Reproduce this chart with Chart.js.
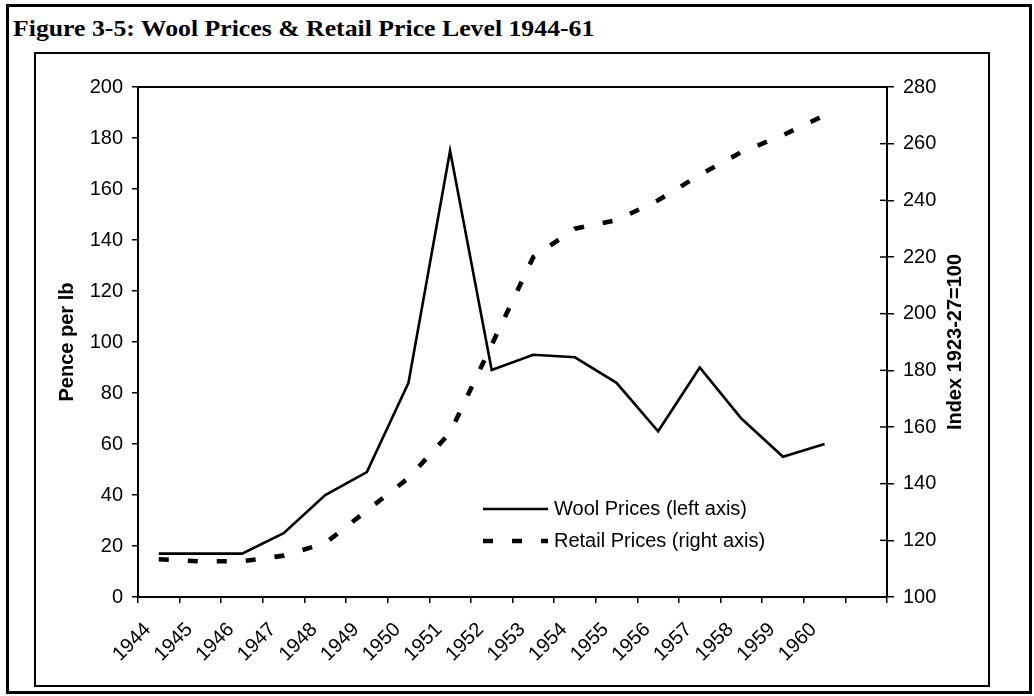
<!DOCTYPE html>
<html>
<head>
<meta charset="utf-8">
<script src="https://cdn.jsdelivr.net/npm/chart.js@4.4.0/dist/chart.umd.min.js"></script>
<style>
  body { margin: 0; background: #fff; }
  #wrap { position: relative; width: 1034px; height: 696px; overflow: hidden; }
  #outer { position: absolute; left: 6px; top: 4px; width: 1020px; height: 684px; border: 3px solid #000; }
  #inner { position: absolute; left: 34px; top: 52px; width: 952px; height: 631px; border: 2px solid #000; }
  #title { position: absolute; left: 13px; top: 17px; font: bold 23px "Liberation Serif", "Times New Roman", serif; line-height: 24px; white-space: nowrap; color: #000; transform: scaleX(1.12); transform-origin: left center; }
  #chart { position: absolute; left: 0; top: 0; }
</style>
</head>
<body>
<div id="wrap">
  <div id="outer"></div>
  <div id="inner"></div>
  <div id="title">Figure 3-5: Wool Prices &amp; Retail Price Level 1944-61</div>
  <canvas id="chart" width="1034" height="696"></canvas>
</div>
<script>
// categories (last slot is left empty on the axis)
const years = ['1944', '1945', '1946', '1947', '1948', '1949', '1950', '1951', '1952',
               '1953', '1954', '1955', '1956', '1957', '1958', '1959', '1960', ''];

// pence per lb (left axis)
const woolPrices = [17, 17, 17, 25, 40, 49, 84, 175, 89, 95, 94, 84, 65, 90, 70, 55, 60, null];

// retail price index, 1923-27=100 (right axis)
const retailIndex = [113.3, 112.6, 112.6, 114.6, 119, 130.5, 142, 158, 189, 220, 230, 233,
                     240, 249, 257, 263, 270, null];

const tickFont = { family: '"Liberation Sans", Arial, sans-serif', size: 20 };
const titleFont = { family: '"Liberation Sans", Arial, sans-serif', size: 20, weight: 'bold' };

// box round the plot, inward ticks on the right axis, right title and legend
const extras = {
  id: 'extras',
  afterDraw(chart) {
    const ctx = chart.ctx;
    const a = chart.chartArea;
    ctx.save();
    ctx.strokeStyle = '#000';
    ctx.lineWidth = 2;
    ctx.beginPath();
    ctx.moveTo(a.left, a.top);
    ctx.lineTo(a.right, a.top);
    ctx.stroke();

    const y1 = chart.scales.y1;
    ctx.lineWidth = 1.5;
    y1.ticks.forEach(t => {
      const py = y1.getPixelForValue(t.value);
      ctx.beginPath();
      ctx.moveTo(a.right - 7, py);
      ctx.lineTo(a.right, py);
      ctx.stroke();
    });

    // right axis title, reading bottom to top
    ctx.fillStyle = '#000';
    ctx.font = 'bold 20px "Liberation Sans", Arial, sans-serif';
    ctx.textAlign = 'center';
    ctx.textBaseline = 'middle';
    ctx.translate(a.right + 68, (a.top + a.bottom) / 2);
    ctx.rotate(-Math.PI / 2);
    ctx.fillText('Index 1923-27=100', 0, 0);
    ctx.restore();

    // legend
    ctx.save();
    ctx.font = '20px "Liberation Sans", Arial, sans-serif';
    ctx.textAlign = 'left';
    ctx.textBaseline = 'middle';
    ctx.fillStyle = '#000';
    const lx = a.left + 345;
    chart.data.datasets.forEach((ds, i) => {
      const ly = a.top + 422 + i * 32;
      ctx.strokeStyle = ds.borderColor;
      ctx.lineWidth = ds.borderWidth;
      ctx.setLineDash(ds.borderDash || []);
      ctx.beginPath();
      ctx.moveTo(lx, ly);
      ctx.lineTo(lx + 65, ly);
      ctx.stroke();
      ctx.setLineDash([]);
      ctx.fillText(ds.label, lx + 71, ly);
    });
    ctx.restore();
  }
};

new Chart(document.getElementById('chart'), {
  type: 'line',
  data: {
    labels: years,
    datasets: [
      {
        label: 'Wool Prices (left axis)',
        data: woolPrices,
        yAxisID: 'y',
        borderColor: '#000',
        borderWidth: 2.6,
        pointRadius: 0,
        tension: 0
      },
      {
        label: 'Retail Prices (right axis)',
        data: retailIndex,
        yAxisID: 'y1',
        borderColor: '#000',
        borderWidth: 4.6,
        borderDash: [10, 19],
        borderCapStyle: 'butt',
        pointRadius: 0,
        tension: 0
      }
    ]
  },
  options: {
    responsive: false,
    animation: false,
    layout: { padding: { left: 36, right: 46, top: 87, bottom: 10 } },
    plugins: {
      legend: { display: false },
      tooltip: { enabled: false }
    },
    scales: {
      x: {
        offset: true,
        grid: { offset: true, drawOnChartArea: false, color: '#000', tickLength: 6, lineWidth: 1.5 },
        border: { color: '#000', width: 2 },
        ticks: { autoSkip: false, minRotation: 45, maxRotation: 45, color: '#000', font: tickFont, padding: 15, labelOffset: -11 },
        afterFit: s => { s.height = 89; }
      },
      y: {
        position: 'left',
        min: 0,
        max: 200,
        ticks: { stepSize: 20, color: '#000', font: tickFont, padding: 9 },
        grid: { drawOnChartArea: false, color: '#000', tickLength: 6, lineWidth: 1.5 },
        border: { color: '#000', width: 2 },
        title: { display: true, text: 'Pence per lb', color: '#000', font: titleFont, padding: { top: 19 } },
        afterFit: s => { s.width = 102; }
      },
      y1: {
        position: 'right',
        min: 100,
        max: 280,
        ticks: { stepSize: 20, color: '#000', font: tickFont, padding: 9 },
        grid: { drawOnChartArea: false, color: '#000', tickLength: 7, lineWidth: 1.5 },
        border: { color: '#000', width: 2 },
        afterFit: s => { s.width = 101; }
      }
    }
  },
  plugins: [extras]
});
</script>
</body>
</html>
